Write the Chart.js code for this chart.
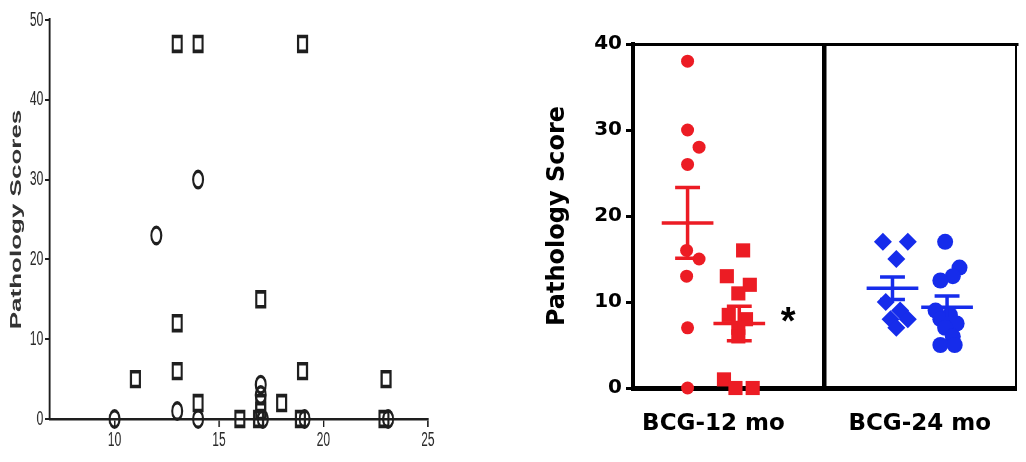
<!DOCTYPE html>
<html>
<head>
<meta charset="utf-8">
<script src="https://cdn.jsdelivr.net/npm/chart.js@4.4.0/dist/chart.umd.min.js"></script>
<style>
  html, body { margin: 0; padding: 0; background: #fff; }
  body { width: 1026px; height: 462px; position: relative; overflow: hidden; }
  #leftWrap { position: absolute; left: 0; top: 0; width: 750px; height: 462px; transform: scaleX(0.6); transform-origin: 0 0; }
  #rightWrap { position: absolute; left: 540px; top: 0; width: 486px; height: 462px; }
</style>
</head>
<body>
<div id="leftWrap"><canvas id="left" width="750" height="462"></canvas></div>
<div id="rightWrap"><canvas id="right" width="486" height="462"></canvas></div>
<script>
// ---------- Left panel data (x value, pathology score) ----------
const leftSquaresX = [13, 14, 19, 17, 13, 13, 11, 19, 23, 14, 18, 17, 17, 16, 16.9, 18.9, 22.9];
const leftSquaresY = [47, 47, 47, 15, 12, 6, 5, 6, 5, 2, 2, 2, 1, 0, 0, 0, 0];
const leftCirclesX = [14, 12, 13, 10, 14, 17, 17, 17.1, 19.1, 23.1];
const leftCirclesY = [30, 23, 1, 0, 0, 4.3, 3, 0, 0, 0];
const leftXTicks = [10, 15, 20, 25];
const leftYTicks = [0, 10, 20, 30, 40, 50];

// ---------- Right panel data ----------
const groupLabels = ['BCG-12 mo', 'BCG-24 mo'];
const yTicksRight = [0, 10, 20, 30, 40];
// individual points: x = position within the panel, y = pathology score
const red12CirclesX = [0.57, 0.57, 0.69, 0.57, 0.56, 0.69, 0.56, 0.57, 0.57];
const red12CirclesY = [38, 30, 28, 26, 16, 15, 13, 7, 0];
const red12SquaresX = [1.15, 0.98, 1.22, 1.10, 1.00, 1.18, 1.10, 1.10, 0.95, 1.07, 1.25];
const red12SquaresY = [16, 13, 12, 11, 8.5, 8, 7, 6, 1, 0, 0];
const blue24DiamondsX = [2.61, 2.87, 2.75, 2.64, 2.79, 2.69, 2.87, 2.75];
const blue24DiamondsY = [17, 17, 15, 10, 9, 8, 8, 7];
const blue24CirclesX = [3.26, 3.41, 3.34, 3.21, 3.16, 3.31, 3.21, 3.38, 3.26, 3.34, 3.21, 3.36];
const blue24CirclesY = [17, 14, 13, 12.5, 9, 8.5, 8, 7.5, 7, 6, 5, 5];
// group summary (mean +/- SEM)
const groupX = [0.57, 1.11, 2.71, 3.28];
const groupMean = [19.2, 7.5, 11.6, 9.4];
const groupSem = [4.1, 2.0, 1.3, 1.3];
const dividerX = [2];

const RED = 'rgb(236,28,36)';
const BLUE = 'rgb(22,44,235)';
const groupColor = [RED, RED, BLUE, BLUE];

const zip = (xs, ys) => xs.map((x, i) => ({x: x, y: ys[i]}));

// ---------- Left chart ----------
const INK = '#1e1e1e';
new Chart(document.getElementById('left'), {
  type: 'scatter',
  data: {
    datasets: [
      { data: zip(leftCirclesX, leftCirclesY), pointStyle: 'circle', pointRadius: 8.3,
        borderColor: INK, backgroundColor: 'rgba(0,0,0,0)', borderWidth: 3.4, clip: false },
      { data: zip(leftSquaresX, leftSquaresY), pointStyle: 'rect', pointRadius: 10.5,
        borderColor: INK, backgroundColor: 'rgba(0,0,0,0)', borderWidth: 3.6, clip: false }
    ]
  },
  options: {
    responsive: false, animation: false, events: [],
    layout: { padding: { top: 20, right: 37, bottom: 0, left: 0 } },
    plugins: { legend: { display: false }, tooltip: { enabled: false } },
    scales: {
      x: {
        type: 'linear', min: 6.9, max: 25,
        afterBuildTicks: s => { s.ticks = leftXTicks.map(v => ({value: v})); },
        afterFit: s => { s.height = 43; },
        grid: { drawOnChartArea: false, drawTicks: true, tickLength: 8, color: INK, lineWidth: 2.5 },
        border: { display: true, color: INK, width: 2.5 },
        ticks: { color: '#2a2a2a', font: { family: 'Liberation Sans', size: 20 }, padding: 1 }
      },
      y: {
        min: 0, max: 50,
        afterBuildTicks: s => { s.ticks = leftYTicks.map(v => ({value: v})); },
        afterFit: s => { s.width = 83; },
        grid: { drawOnChartArea: false, drawTicks: true, tickLength: 8, color: INK, lineWidth: 2 },
        border: { display: true, color: INK, width: 3.3 },
        ticks: { color: '#2a2a2a', font: { family: 'Liberation Sans', size: 20 }, padding: 3 },
        title: { display: true, text: 'Pathology Scores', color: '#333',
                 font: { family: 'Liberation Sans', size: 26, weight: 'bold' }, padding: { top: 12, bottom: 0 } }
      }
    }
  }
});

// ---------- Right chart ----------
function errorBarData(i) {
  const gx = groupX[i], m = groupMean[i], e = groupSem[i];
  const half = 0.27, cap = 0.13;
  return [
    {x: gx - half, y: m}, {x: gx + half, y: m}, {x: gx, y: null},
    {x: gx - cap, y: m + e}, {x: gx + cap, y: m + e}, {x: gx, y: null},
    {x: gx, y: m + e}, {x: gx, y: m - e}, {x: gx, y: null},
    {x: gx - cap, y: m - e}, {x: gx + cap, y: m - e}
  ];
}
const errorSets = groupX.map((_, i) => ({
  data: errorBarData(i), showLine: true, spanGaps: false, pointRadius: 0,
  borderColor: groupColor[i], backgroundColor: groupColor[i], borderWidth: 3.5, clip: false
}));

const sigPlugin = {
  id: 'sig',
  afterDatasetsDraw(chart) {
    const {ctx, scales: {x, y}} = chart;
    ctx.save();
    ctx.fillStyle = '#000';
    ctx.font = 'bold 38px "Liberation Sans"';
    ctx.textAlign = 'center';
    ctx.textBaseline = 'middle';
    ctx.fillText('*', x.getPixelForValue(groupX[1] + 0.51), y.getPixelForValue(groupMean[1]));
    ctx.restore();
  }
};

new Chart(document.getElementById('right'), {
  type: 'scatter',
  data: {
    datasets: [
      ...errorSets,
      { data: zip(red12CirclesX, red12CirclesY), pointStyle: 'circle', pointRadius: 6.5,
        backgroundColor: RED, borderColor: RED, borderWidth: 0, clip: false },
      { data: zip(red12SquaresX, red12SquaresY), pointStyle: 'rect', pointRadius: 10,
        backgroundColor: RED, borderColor: RED, borderWidth: 0, clip: false },
      { data: zip(blue24DiamondsX, blue24DiamondsY), pointStyle: 'rectRot', pointRadius: 9,
        backgroundColor: BLUE, borderColor: BLUE, borderWidth: 0, clip: false },
      { data: zip(blue24CirclesX, blue24CirclesY), pointStyle: 'circle', pointRadius: 8,
        backgroundColor: BLUE, borderColor: BLUE, borderWidth: 0, clip: false }
    ]
  },
  options: {
    responsive: false, animation: false, events: [],
    layout: { padding: { top: 44, right: 4, bottom: 0, left: 0 } },
    plugins: { legend: { display: false }, tooltip: { enabled: false } },
    scales: {
      x: {
        type: 'linear', min: 0, max: 4,
        afterBuildTicks: s => {
          s.ticks = groupLabels.map((_, k) => ({value: (groupX[2 * k] + groupX[2 * k + 1]) / 2}));
        },
        afterFit: s => { s.height = 74; },
        grid: { display: false },
        border: { display: true, color: '#000', width: 5 },
        ticks: {
          color: '#000', padding: 14, maxRotation: 0, autoSkip: false,
          font: { family: 'DejaVu Sans', size: 23, weight: 'bold' },
          callback: (v, idx) => groupLabels[idx]
        }
      },
      xTop: {
        type: 'linear', position: 'top', min: 0, max: 4,
        afterBuildTicks: s => { s.ticks = dividerX.map(v => ({value: v})); },
        afterFit: s => { s.height = 0; },
        grid: { display: true, drawOnChartArea: true, drawTicks: false, color: '#000', lineWidth: 4.5 },
        border: { display: true, color: '#000', width: 3 },
        ticks: { display: false }
      },
      y: {
        min: 0, max: 40,
        afterBuildTicks: s => { s.ticks = yTicksRight.map(v => ({value: v})); },
        afterFit: s => { s.width = 93; },
        grid: { drawOnChartArea: false, drawTicks: true, tickLength: 7, color: '#000', lineWidth: 3 },
        border: { display: true, color: '#000', width: 4 },
        ticks: { color: '#000', padding: 4, font: { family: 'DejaVu Sans', size: 20, weight: 'bold' } },
        title: { display: true, text: 'Pathology Score', color: '#000',
                 font: { family: 'DejaVu Sans', size: 24, weight: 'bold' }, padding: { top: 3, bottom: 0 } }
      },
      yRight: {
        position: 'right', min: 0, max: 40,
        afterFit: s => { s.width = 0; },
        grid: { display: false },
        border: { display: true, color: '#000', width: 2 },
        ticks: { display: false }
      }
    }
  },
  plugins: [sigPlugin]
});
</script>
</body>
</html>
